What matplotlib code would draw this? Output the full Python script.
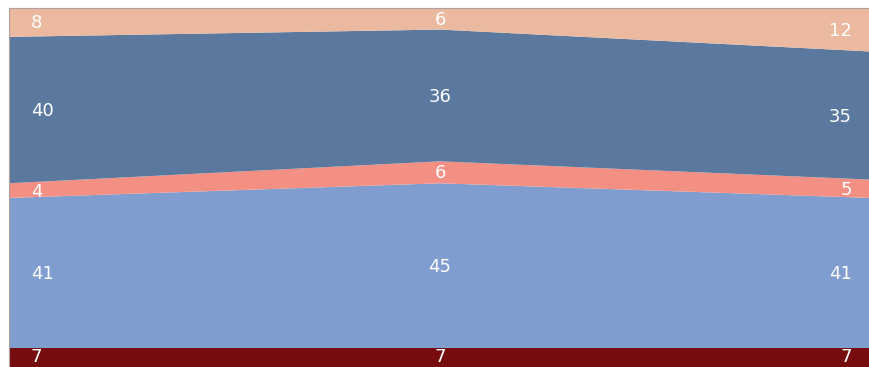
import numpy as np
import matplotlib.pyplot as plt

# data (percent shares, bottom to top)
x = [0, 1, 2]
dark_red = [7, 7, 7]
light_blue = [41, 45, 41]
salmon = [4, 6, 5]
dark_blue = [40, 36, 35]
peach = [8, 6, 12]

series = [dark_red, light_blue, salmon, dark_blue, peach]
colors = ['#760C0D', '#7F9DCE', '#F38F83', '#5B789F', '#EBB99F']

fig = plt.figure(figsize=(8.69, 3.67), dpi=100)
ax = fig.add_axes([9 / 869, -6.6 / 367, 862 / 869, 366 / 367])

ax.stackplot(x, *series, colors=colors, linewidth=0)
ax.set_xlim(0, 2)
ax.set_ylim(0, 100)
ax.set_xticks([])
ax.set_yticks([])
for s in ax.spines.values():
    s.set_color('#b0a0a0')
    s.set_linewidth(0.8)

# value labels in the middle of each band
data = np.array(series)
bottoms = np.cumsum(data, axis=0) - data
label_x = [0.051, 1.0, 1.956]
aligns = ['left', 'center', 'right']
for i in range(data.shape[0]):
    for j in range(data.shape[1]):
        yc = bottoms[i, j] + data[i, j] / 2 - 0.3
        if i == 0:
            yc = max(yc, 4.4)  # keep the bottom label inside the picture
        ax.text(label_x[j], yc, str(data[i, j]), color='white', fontsize=13,
                ha=aligns[j], va='center')

plt.savefig('out.png', dpi=100)
